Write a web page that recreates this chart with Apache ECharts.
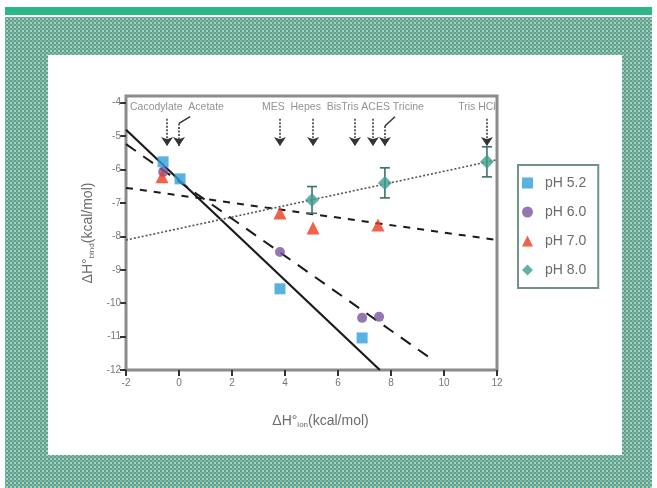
<!DOCTYPE html>
<html>
<head>
<meta charset="utf-8">
<script src="https://cdn.jsdelivr.net/npm/echarts@6/dist/echarts.min.js"></script>
<style>
  html, body { margin: 0; padding: 0; width: 657px; height: 488px; background: #ffffff; overflow: hidden; }
  #green { position: absolute; left: 5px; top: 7px; width: 647px; height: 8px; background: #2cb68a; }
  #teal { position: absolute; left: 5px; top: 17px; width: 647px; height: 471px;
    background-color: #5b9f95;
    background-image: radial-gradient(circle, #a9d4b2 0.9px, rgba(0,0,0,0) 1.3px),
                      radial-gradient(circle, #86b9a4 0.8px, rgba(0,0,0,0) 1.2px);
    background-size: 4px 4px, 4px 4px;
    background-position: 0 0, 2px 2px; }
  #panel { position: absolute; left: 48px; top: 55px; width: 574px; height: 400px; background: #ffffff; }
  #chart { position: absolute; left: 0; top: 0; width: 657px; height: 488px; }
</style>
</head>
<body>
<div id="green"></div>
<div id="teal"></div>
<div id="panel"></div>
<div id="chart"></div>
<script>
// ---- data ----
const seriesNames = ['pH 5.2', 'pH 6.0', 'pH 7.0', 'pH 8.0'];

const ph52X = [-0.60, 0.04, 3.81, 6.91];
const ph52Y = [-5.77, -6.28, -9.57, -11.04];

const ph60X = [-0.60, 3.81, 6.91, 7.55];
const ph60Y = [-6.07, -8.47, -10.44, -10.41];

const ph70X = [-0.64, 3.81, 5.06, 7.51];
const ph70Y = [-6.22, -7.30, -7.75, -7.66];

const ph80X = [5.02, 7.77, 11.62];
const ph80Y = [-6.91, -6.40, -5.77];
const ph80Err = [0.40, 0.45, 0.45];

// fit lines (end points)
const fit52 = [[-2, -4.81], [7.58, -12]];
const fit60 = [[-2, -5.24], [9.58, -11.70]];
const fit70 = [[-2, -6.55], [12, -8.11]];
const fit80 = [[-2, -8.11], [12, -5.71]];

// buffer arrows (ionization enthalpy positions)
const arrowX = [-0.45, 0.0, 3.81, 5.06, 6.64, 7.32, 7.77, 11.62];
const arrowTop = [-4.48, -4.62, -4.48, -4.48, -4.48, -4.48, -4.70, -4.48];
const arrowTip = -5.30;
const bentTails = [[[0.0, -4.62], [0.42, -4.42]], [[7.77, -4.70], [8.15, -4.42]]];

const bufferLabels = [
  { text: 'Cacodylate  Acetate', x: -1.85, y: -4.14, align: 'left' },
  { text: 'MES  Hepes  BisTris ACES Tricine', x: 3.13, y: -4.14, align: 'left' },
  { text: 'Tris HCl', x: 11.95, y: -4.14, align: 'right' }
];

const xTicks = { min: -2, max: 12, interval: 2 };
const yTicks = { min: -12, max: -3.8, interval: 1 };

const colors = { ph52: '#2f9fd8', ph60: '#7b559f', ph70: '#ec3b1f', ph80: '#3f9e8e' };

// ---- build ----
const zip = (xs, ys) => xs.map((x, i) => [x, ys[i]]);
const textGray = '#6b6b6b';

const arrowMarkData = arrowX.map((x, i) => [{ coord: [x, arrowTop[i]] }, { coord: [x, arrowTip] }]);
const tailMarkData = bentTails.map(t => [{ coord: t[0] }, { coord: t[1] }]);

const chart = echarts.init(document.getElementById('chart'), null, { renderer: 'canvas' });

const option = {
  backgroundColor: 'transparent',
  animation: false,
  textStyle: { fontFamily: 'Liberation Sans, Arial, sans-serif' },
  grid: { left: 126, right: 160, top: 96, bottom: 118, show: true, borderColor: '#8c8c8c', borderWidth: 3, backgroundColor: 'transparent' },
  legend: {
    data: seriesNames,
    orient: 'vertical',
    left: 518, top: 165,
    padding: [10, 12, 10, 4],
    itemWidth: 11, itemHeight: 11, itemGap: 13,
    borderColor: '#6f9485', borderWidth: 2,
    backgroundColor: '#ffffff',
    textStyle: { color: textGray, fontSize: 14, lineHeight: 16, padding: [0, 0, 0, 7] }
  },
  xAxis: {
    type: 'value', min: xTicks.min, max: xTicks.max, interval: xTicks.interval,
    splitLine: { show: false },
    axisLine: { show: false, onZero: false },
    axisTick: { show: true, length: 6, lineStyle: { color: '#333', width: 2 } },
    axisLabel: { color: '#777', fontSize: 10, margin: 8 },
    name: '{a|ΔH°}{s|ion}{a|(kcal/mol)}',
    nameLocation: 'middle', nameGap: 43,
    nameTextStyle: {
      padding: [0, 0, 0, 18],
      rich: {
        a: { fontSize: 14, color: textGray, fontFamily: 'Liberation Sans, Arial, sans-serif' },
        s: { fontSize: 8, color: textGray, verticalAlign: 'bottom', padding: [8, 0, 0, 0], fontFamily: 'Liberation Sans, Arial, sans-serif' }
      }
    }
  },
  yAxis: {
    type: 'value', min: yTicks.min, max: yTicks.max, interval: yTicks.interval,
    splitLine: { show: false },
    axisLine: { show: false, onZero: false },
    axisTick: { show: true, length: 6, lineStyle: { color: '#333', width: 2 } },
    axisLabel: { color: '#777', fontSize: 10, margin: 5, showMaxLabel: false, formatter: v => String(v) },
    name: '{a|ΔH°}{s|bind}{a|(kcal/mol)}',
    nameLocation: 'middle', nameGap: 29,
    nameTextStyle: {
      rich: {
        a: { fontSize: 14, color: textGray, fontFamily: 'Liberation Sans, Arial, sans-serif' },
        s: { fontSize: 8, color: textGray, verticalAlign: 'bottom', padding: [8, 0, 0, 0], fontFamily: 'Liberation Sans, Arial, sans-serif' }
      }
    }
  },
  series: [
    // fit lines
    { type: 'line', data: fit52, symbol: 'none', silent: true, z: 2, lineStyle: { color: '#1a1a1a', width: 2.2, type: 'solid' } },
    { type: 'line', data: fit60, symbol: 'none', silent: true, z: 2, lineStyle: { color: '#1a1a1a', width: 2, type: [12, 9] } },
    { type: 'line', data: fit70, symbol: 'none', silent: true, z: 2, lineStyle: { color: '#1a1a1a', width: 2, type: [7, 7] } },
    { type: 'line', data: fit80, symbol: 'none', silent: true, z: 2, lineStyle: { color: '#555', width: 1.6, type: [2, 2] } },
    // arrows and buffer labels
    {
      type: 'scatter', data: bufferLabels.map(b => ({ value: [b.x, b.y], label: { align: b.align } })),
      symbolSize: 0, silent: true, z: 3,
      label: { show: true, position: 'inside', formatter: p => bufferLabels[p.dataIndex].text, color: '#777', fontSize: 10.5 },
      markLine: {
        silent: true, symbol: ['none', 'arrow'], symbolSize: [9, 9], precision: 3,
        label: { show: false },
        lineStyle: { color: '#333', width: 1.5, type: [2, 1.5] },
        data: arrowMarkData
      }
    },
    {
      type: 'scatter', data: [], silent: true,
      markLine: {
        silent: true, symbol: ['none', 'none'], precision: 3,
        label: { show: false },
        lineStyle: { color: '#333', width: 1.5, type: 'solid' },
        data: tailMarkData
      }
    },
    // error bars
    {
      type: 'custom', silent: true, z: 4,
      data: ph80X.map((x, i) => [x, ph80Y[i], ph80Err[i]]),
      renderItem: (params, api) => {
        const x = api.value(0), y = api.value(1), e = api.value(2);
        const top = api.coord([x, y + e]);
        const bot = api.coord([x, y - e]);
        const w = 5;
        const st = { stroke: '#3d6f69', lineWidth: 1.6 };
        return {
          type: 'group',
          children: [
            { type: 'line', shape: { x1: top[0], y1: top[1], x2: bot[0], y2: bot[1] }, style: st },
            { type: 'line', shape: { x1: top[0] - w, y1: top[1], x2: top[0] + w, y2: top[1] }, style: st },
            { type: 'line', shape: { x1: bot[0] - w, y1: bot[1], x2: bot[0] + w, y2: bot[1] }, style: st }
          ]
        };
      }
    },
    // data points
    { name: 'pH 5.2', type: 'scatter', data: zip(ph52X, ph52Y), symbol: 'rect', symbolSize: 11, z: 5, itemStyle: { color: colors.ph52 } },
    { name: 'pH 6.0', type: 'scatter', data: zip(ph60X, ph60Y), symbol: 'circle', symbolSize: 10, z: 5, itemStyle: { color: colors.ph60 } },
    { name: 'pH 7.0', type: 'scatter', data: zip(ph70X, ph70Y), symbol: 'triangle', symbolSize: 13, z: 5, itemStyle: { color: colors.ph70 } },
    { name: 'pH 8.0', type: 'scatter', data: zip(ph80X, ph80Y), symbol: 'diamond', symbolSize: 14, z: 6, itemStyle: { color: colors.ph80 } }
  ]
};
chart.setOption(option);
</script>
</body>
</html>
